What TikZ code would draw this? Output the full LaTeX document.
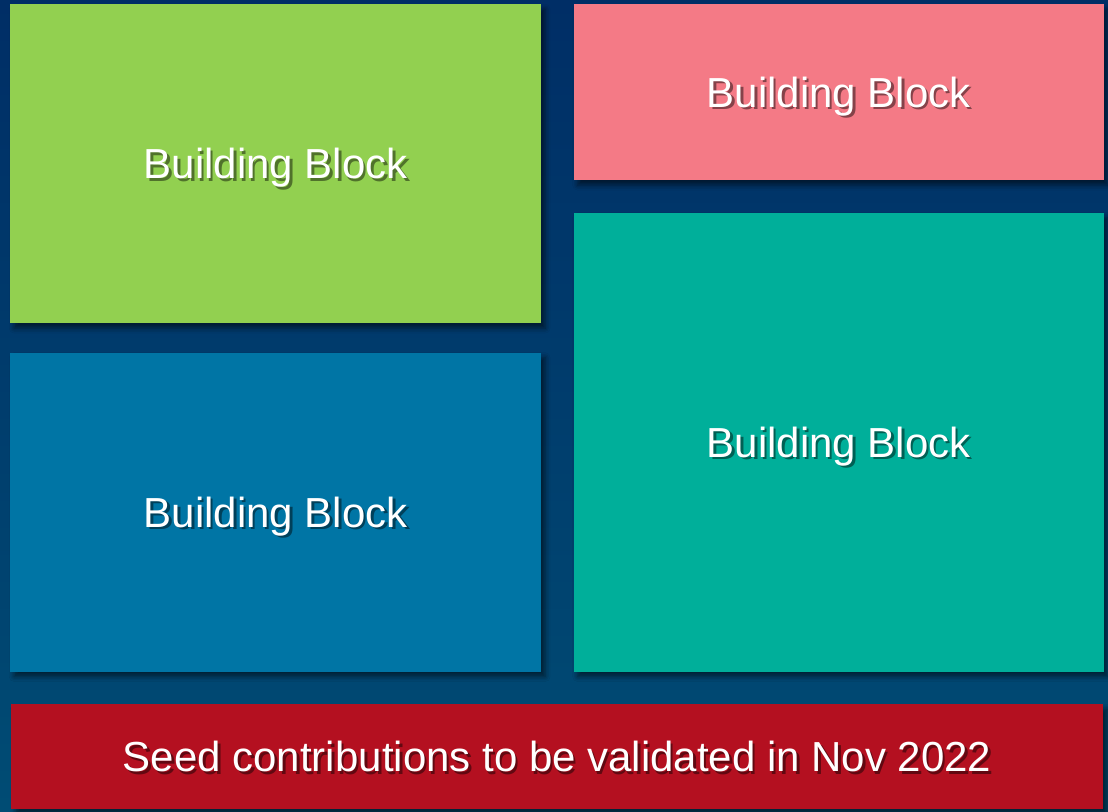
\documentclass[tikz,border=0pt]{standalone}
\usepackage{fontspec}
\setmainfont{Liberation Sans}
\usepackage{tikz}
\usetikzlibrary{shapes, positioning, calc, shadows.blur}

\definecolor{bgtop}{RGB}{0,46,102}
\definecolor{bgbot}{RGB}{0,76,116}
\definecolor{bbgreen}{RGB}{146,208,80}
\definecolor{bbpink}{RGB}{244,122,134}
\definecolor{bbblue}{RGB}{0,117,165}
\definecolor{bbteal}{RGB}{0,175,154}
\definecolor{bbred}{RGB}{180,16,32}
\newcommand{\bbfont}{\fontsize{42}{48}\selectfont}

\begin{document}
\begin{tikzpicture}[x=1pt, y=-1pt,
  block node/.style={rectangle, fill=#1, text=white, font=\bbfont, inner sep=0pt, text depth=0pt,
    blur shadow={shadow xshift=4pt, shadow yshift=-5pt, shadow blur radius=5pt, shadow opacity=55}},
  txt shadow/.style={path picture={\node[text=black, text opacity=.45, font=\bbfont, inner sep=0pt,
    text depth=0pt, anchor=center] at ([xshift=2.5pt, yshift=-2.5pt]path picture bounding box.center) {#1};}}]
  \useasboundingbox (0,0) rectangle (1108,811);
  \shade[top color=bgtop, bottom color=bgbot] (0,0) rectangle (1108,811);
  \node[block node=bbgreen, txt shadow={Building Block}, minimum width=531pt, minimum height=319pt,
    anchor=north west] (green) at (10,4) {Building Block};
  \node[block node=bbpink, txt shadow={Building Block}, minimum width=530pt, minimum height=176pt,
    right=32pt of green.north east, anchor=north west] (pink) {Building Block};
  \node[block node=bbblue, txt shadow={Building Block}, minimum width=531pt, minimum height=319pt,
    below=29pt of green.south west, anchor=north west] (blue) {Building Block};
  \node[block node=bbteal, txt shadow={Building Block}, minimum width=530pt, minimum height=459pt,
    below=32pt of pink.south west, anchor=north west] (teal) {Building Block};
  \node[block node=bbred, txt shadow={Seed contributions to be validated in Nov 2022},
    minimum width=1092pt, minimum height=105pt, anchor=north west] (seed) at (11,704)
    {Seed contributions to be validated in Nov 2022};
\end{tikzpicture}
\end{document}
